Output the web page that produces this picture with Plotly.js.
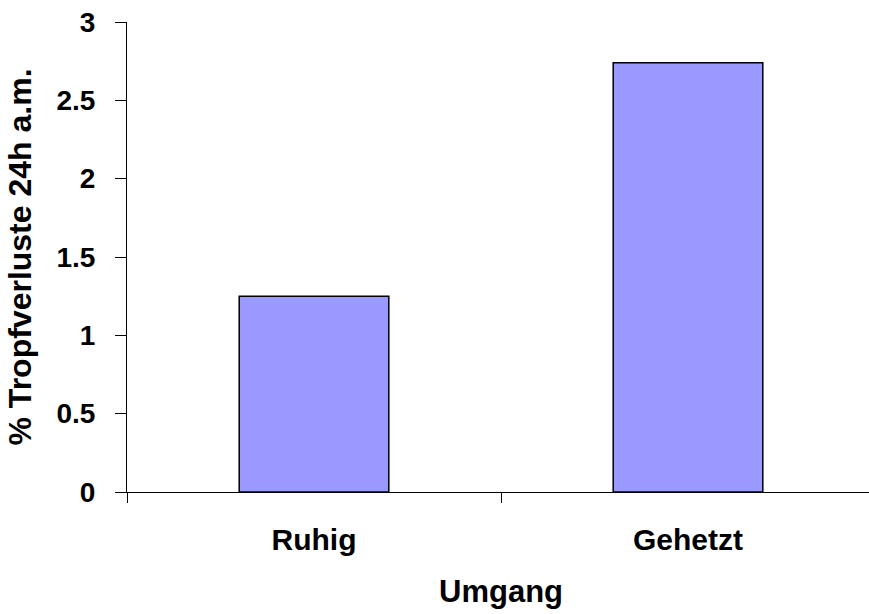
<!DOCTYPE html>
<html>
<head>
<meta charset="utf-8">
<script src="https://cdn.plot.ly/plotly-3.0.1.min.js"></script>
<style>
html, body { margin: 0; padding: 0; overflow: hidden; background: #ffffff; }
#chart { width: 877px; height: 614px; }
</style>
</head>
<body>
<div id="chart"></div>
<script>
const categories = ["Ruhig", "Gehetzt"];
const values = [1.25, 2.74];
const yTickVals = [0, 0.5, 1, 1.5, 2, 2.5, 3];
const yTickText = ["0", "0.5", "1", "1.5", "2", "2.5", "3"];
const xTitle = "Umgang";
const yTitle = "% Tropfverluste 24h a.m.";

const fontFamily = "Liberation Sans, Arial, sans-serif";

const trace = {
  type: "bar",
  x: categories,
  y: values,
  marker: { color: "#9999ff", line: { color: "#000000", width: 1.5 } },
  hoverinfo: "skip"
};

const layout = {
  width: 877,
  height: 614,
  margin: { l: 127, r: 2, t: 22, b: 122 },
  paper_bgcolor: "#ffffff",
  plot_bgcolor: "#ffffff",
  showlegend: false,
  bargap: 0.6,
  font: { family: fontFamily, color: "#000000" },
  xaxis: {
    type: "category",
    range: [-0.5, 1.5],
    showline: true,
    linecolor: "#000000",
    linewidth: 1,
    showgrid: false,
    zeroline: false,
    ticks: "outside",
    tickson: "boundaries",
    ticklen: 10,
    tickcolor: "#000000",
    tickwidth: 1,
    ticklabelstandoff: 21,
    tickfont: { family: fontFamily, size: 30, weight: "bold", color: "#000000" },
    title: { text: xTitle, font: { family: fontFamily, size: 31, weight: "bold", color: "#000000" }, standoff: 25 }
  },
  yaxis: {
    range: [0, 3],
    tickvals: yTickVals,
    ticktext: yTickText,
    showline: true,
    linecolor: "#000000",
    linewidth: 1,
    showgrid: false,
    zeroline: false,
    ticks: "outside",
    ticklen: 11,
    tickcolor: "#000000",
    tickwidth: 1,
    ticklabelstandoff: 14,
    tickfont: { family: fontFamily, size: 28, weight: "bold", color: "#000000" },
    title: { text: yTitle, font: { family: fontFamily, size: 32, weight: "bold", color: "#000000" }, standoff: 15 }
  }
};

Plotly.newPlot("chart", [trace], layout, { displayModeBar: false, staticPlot: true });
</script>
</body>
</html>
